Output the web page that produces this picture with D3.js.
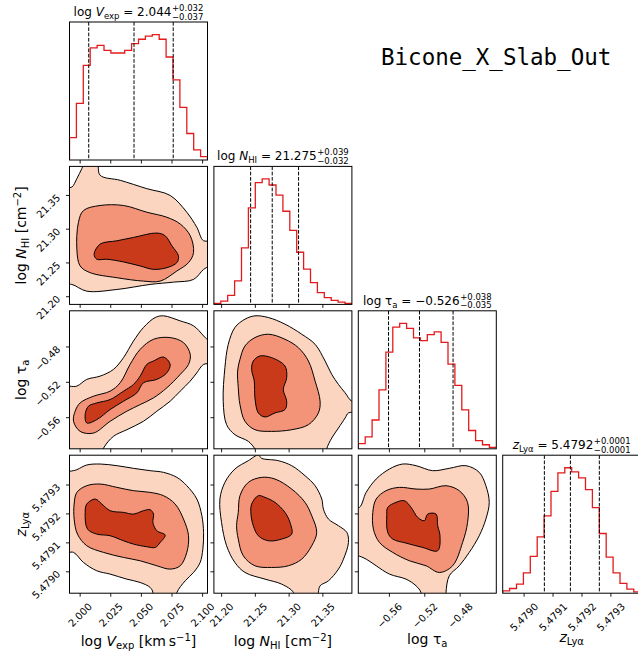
<!DOCTYPE html>
<html>
<head>
<meta charset="utf-8">
<script src="https://cdn.jsdelivr.net/npm/d3@7"></script>
<style>
  body { margin: 0; background: #fff; }
  text { font-family: "DejaVu Sans", sans-serif; fill: #000; }
</style>
</head>
<body>
<svg id="chart" width="638" height="652"></svg>
<script>
// ---- axis limits and ticks of the four parameters ----
const ranges = [[1.9913, 2.1040], [21.1886, 21.3930], [-0.5952, -0.4391], [5.478926, 5.479403]];
const tickValues = [
  [2.000, 2.025, 2.050, 2.075, 2.100],
  [21.20, 21.25, 21.30, 21.35],
  [-0.56, -0.52, -0.48],
  [5.4790, 5.4791, 5.4792, 5.4793]
];
const tickLabels = [
  ["2.000", "2.025", "2.050", "2.075", "2.100"],
  ["21.20", "21.25", "21.30", "21.35"],
  ["\u22120.56", "\u22120.52", "\u22120.48"],
  ["5.4790", "5.4791", "5.4792", "5.4793"]
];

// ---- 1D marginal histograms (20 bins across each range) ----
const histVexp = [67, 169, 282, 334, 342, 327, 319, 319, 327, 347, 360, 369, 374, 360, 307, 239, 157, 79, 30, 10];
const histNHI  = [3, 10, 27, 70, 168, 287, 362, 373, 355, 325, 277, 220, 155, 105, 65, 35, 20, 12, 7, 3];
const histTau  = [15, 35, 85, 174, 285, 359, 370, 355, 327, 319, 337, 345, 314, 250, 187, 115, 54, 24, 12, 4];
const histZ    = [7, 14, 27, 60, 109, 167, 229, 302, 357, 372, 360, 342, 307, 254, 177, 107, 60, 29, 12, 4];

// ---- 16th / 50th / 84th percentiles ----
const qVexp = [2.007, 2.044, 2.076];
const qNHI  = [21.243, 21.275, 21.314];
const qTau  = [-0.561, -0.526, -0.488];
const qZ    = [5.47907, 5.47916, 5.47926];
const titleDecimals = [3, 3, 3, 4];

// ---- 2D credible-region contours: [outer, middle, inner] ----
const nhiVexp = [
  [[1.9864,21.3600],[1.9932,21.3624],[1.9973,21.3749],[2.0014,21.3898],[2.0041,21.3998],[2.0136,21.3998],[2.0163,21.3799],[2.0327,21.3724],[2.0545,21.3600],[2.0735,21.3500],[2.0871,21.3251],[2.0953,21.3027],[2.1008,21.2828],[2.1089,21.2828],[2.1089,21.2505],[2.1008,21.2405],[2.0926,21.2256],[2.0763,21.2216],[2.0572,21.2182],[2.0300,21.2107],[2.0054,21.2082],[1.9932,21.2182],[1.9864,21.2182]],
  [[1.9986,21.3102],[2.0027,21.3276],[2.0163,21.3351],[2.0354,21.3351],[2.0545,21.3251],[2.0708,21.3177],[2.0817,21.3077],[2.0899,21.2903],[2.0926,21.2654],[2.0885,21.2505],[2.0790,21.2381],[2.0654,21.2231],[2.0517,21.2231],[2.0300,21.2281],[2.0082,21.2356],[2.0000,21.2455],[1.9973,21.2704]],
  [[2.0114,21.2629],[2.0163,21.2779],[2.0300,21.2828],[2.0436,21.2878],[2.0626,21.2943],[2.0694,21.2903],[2.0749,21.2754],[2.0803,21.2604],[2.0790,21.2505],[2.0708,21.2430],[2.0599,21.2405],[2.0490,21.2455],[2.0354,21.2515],[2.0218,21.2555],[2.0136,21.2555]]
];
const tauVexp = [
  [[1.9864,-0.5262],[1.9973,-0.5243],[2.0054,-0.5167],[2.0163,-0.5130],[2.0272,-0.5054],[2.0354,-0.4921],[2.0436,-0.4732],[2.0517,-0.4580],[2.0613,-0.4467],[2.0681,-0.4448],[2.0817,-0.4505],[2.0926,-0.4561],[2.1008,-0.4675],[2.1089,-0.4808],[2.1089,-0.4978],[2.1008,-0.4997],[2.0953,-0.5092],[2.0899,-0.5186],[2.0817,-0.5300],[2.0735,-0.5414],[2.0626,-0.5527],[2.0517,-0.5641],[2.0381,-0.5736],[2.0272,-0.5811],[2.0191,-0.5944],[2.0163,-0.6058],[1.9864,-0.6058]],
  [[1.9959,-0.5527],[2.0000,-0.5433],[2.0109,-0.5357],[2.0245,-0.5300],[2.0327,-0.5205],[2.0408,-0.4997],[2.0490,-0.4827],[2.0599,-0.4713],[2.0735,-0.4694],[2.0844,-0.4751],[2.0899,-0.4883],[2.0885,-0.4997],[2.0817,-0.5111],[2.0708,-0.5262],[2.0599,-0.5376],[2.0490,-0.5452],[2.0381,-0.5527],[2.0245,-0.5641],[2.0109,-0.5774],[2.0000,-0.5755],[1.9946,-0.5641]],
  [[2.0041,-0.5565],[2.0068,-0.5470],[2.0136,-0.5433],[2.0245,-0.5395],[2.0354,-0.5300],[2.0436,-0.5224],[2.0490,-0.5130],[2.0545,-0.4997],[2.0599,-0.4959],[2.0681,-0.4914],[2.0735,-0.4997],[2.0708,-0.5092],[2.0626,-0.5167],[2.0517,-0.5205],[2.0463,-0.5319],[2.0354,-0.5414],[2.0245,-0.5508],[2.0136,-0.5622],[2.0054,-0.5660]]
];
const tauNHI = [
  [[21.2519,-0.6020],[21.2494,-0.5955],[21.2396,-0.5868],[21.2197,-0.5792],[21.2074,-0.5679],[21.2024,-0.5414],[21.2049,-0.5035],[21.2099,-0.4770],[21.2197,-0.4580],[21.2346,-0.4486],[21.2494,-0.4448],[21.2692,-0.4467],[21.2939,-0.4542],[21.3187,-0.4656],[21.3385,-0.4770],[21.3533,-0.4959],[21.3632,-0.5111],[21.3731,-0.5224],[21.3830,-0.5319],[21.3929,-0.5414],[21.4028,-0.5414],[21.4028,-0.5527],[21.3879,-0.5546],[21.3830,-0.5603],[21.3731,-0.5717],[21.3632,-0.5830],[21.3558,-0.5952],[21.3558,-0.6020]],
  [[21.2237,-0.5073],[21.2272,-0.4940],[21.2346,-0.4789],[21.2494,-0.4694],[21.2692,-0.4656],[21.2939,-0.4713],[21.3137,-0.4808],[21.3286,-0.4959],[21.3385,-0.5186],[21.3459,-0.5414],[21.3434,-0.5546],[21.3286,-0.5679],[21.3038,-0.5736],[21.2741,-0.5755],[21.2494,-0.5736],[21.2346,-0.5641],[21.2272,-0.5452],[21.2247,-0.5262]],
  [[21.2445,-0.5054],[21.2470,-0.4959],[21.2568,-0.4902],[21.2741,-0.4921],[21.2939,-0.5016],[21.2964,-0.5148],[21.2914,-0.5281],[21.2964,-0.5414],[21.2939,-0.5508],[21.2791,-0.5546],[21.2643,-0.5592],[21.2544,-0.5546],[21.2494,-0.5376],[21.2484,-0.5186]]
];
const zVexp = [
  [[1.9864,5.4793345],[1.9973,5.4793529],[2.0054,5.4793691],[2.0163,5.4793725],[2.0300,5.4793668],[2.0436,5.4793576],[2.0572,5.4793495],[2.0681,5.4793437],[2.0790,5.4793264],[2.0871,5.4792976],[2.0953,5.4792514],[2.0994,5.4791938],[2.1008,5.4791361],[2.1002,5.4790784],[2.0980,5.4790323],[2.0926,5.4789977],[2.0858,5.4789689],[2.0790,5.4789285],[2.0776,5.4788940],[2.0586,5.4788940],[2.0594,5.4789285],[2.0572,5.4789458],[2.0490,5.4789631],[2.0381,5.4789746],[2.0245,5.4789920],[2.0136,5.4790035],[2.0027,5.4790323],[1.9946,5.4790670],[1.9864,5.4790692]],
  [[1.9951,5.4792341],[1.9973,5.4792745],[2.0054,5.4792976],[2.0163,5.4793033],[2.0300,5.4792918],[2.0436,5.4792803],[2.0572,5.4792745],[2.0681,5.4792630],[2.0776,5.4792341],[2.0844,5.4791822],[2.0885,5.4791246],[2.0871,5.4790669],[2.0817,5.4790208],[2.0735,5.4790093],[2.0626,5.4790208],[2.0490,5.4790381],[2.0354,5.4790496],[2.0191,5.4790669],[2.0054,5.4790900],[1.9978,5.4791303],[1.9951,5.4791822]],
  [[2.0041,5.4792053],[2.0054,5.4792341],[2.0123,5.4792514],[2.0177,5.4792341],[2.0245,5.4792111],[2.0354,5.4792053],[2.0436,5.4791995],[2.0517,5.4792111],[2.0572,5.4792145],[2.0599,5.4791995],[2.0594,5.4791707],[2.0626,5.4791419],[2.0694,5.4791269],[2.0654,5.4791015],[2.0613,5.4790842],[2.0545,5.4790865],[2.0436,5.4790957],[2.0354,5.4791072],[2.0245,5.4791246],[2.0136,5.4791303],[2.0060,5.4791476]]
];
const zNHI = [
  [[21.2544,5.4794037],[21.2396,5.4793841],[21.2197,5.4793552],[21.2049,5.4793091],[21.1975,5.4792514],[21.1999,5.4791707],[21.2074,5.4790900],[21.2197,5.4790323],[21.2346,5.4789977],[21.2643,5.4789746],[21.2890,5.4789573],[21.3063,5.4789285],[21.3063,5.4788940],[21.3424,5.4788940],[21.3434,5.4789285],[21.3459,5.4789516],[21.3583,5.4789689],[21.3731,5.4790093],[21.3805,5.4790438],[21.3879,5.4791015],[21.3855,5.4791361],[21.3731,5.4791592],[21.3583,5.4791822],[21.3508,5.4792168],[21.3484,5.4792514],[21.3385,5.4792975],[21.3236,5.4793321],[21.3038,5.4793668],[21.2840,5.4793841],[21.2593,5.4793922]],
  [[21.2222,5.4791592],[21.2247,5.4792053],[21.2272,5.4792630],[21.2396,5.4793091],[21.2593,5.4793264],[21.2791,5.4793206],[21.3038,5.4792860],[21.3236,5.4792399],[21.3335,5.4791938],[21.3409,5.4791361],[21.3335,5.4790900],[21.3187,5.4790438],[21.2989,5.4790208],[21.2741,5.4790150],[21.2494,5.4790208],[21.2321,5.4790554],[21.2247,5.4791130]],
  [[21.2435,5.4791995],[21.2445,5.4792341],[21.2544,5.4792630],[21.2643,5.4792572],[21.2791,5.4792399],[21.2939,5.4792053],[21.3013,5.4791707],[21.3038,5.4791303],[21.2890,5.4791130],[21.2692,5.4791072],[21.2544,5.4791246],[21.2470,5.4791592]]
];
const zTau = [
  [[-0.6014,5.4792226],[-0.5939,5.4792226],[-0.5863,5.4792745],[-0.5750,5.4793206],[-0.5600,5.4793552],[-0.5450,5.4793725],[-0.5299,5.4793668],[-0.5111,5.4793495],[-0.4923,5.4793576],[-0.4735,5.4793668],[-0.4584,5.4793437],[-0.4509,5.4792975],[-0.4471,5.4792399],[-0.4509,5.4791822],[-0.4584,5.4791246],[-0.4697,5.4790669],[-0.4810,5.4790208],[-0.4923,5.4789862],[-0.4960,5.4789285],[-0.4960,5.4788940],[-0.5243,5.4788940],[-0.5243,5.4789285],[-0.5299,5.4789516],[-0.5412,5.4789746],[-0.5600,5.4789920],[-0.5750,5.4790208],[-0.5863,5.4790438],[-0.5957,5.4790554],[-0.6014,5.4790554]],
  [[-0.5788,5.4792053],[-0.5750,5.4792514],[-0.5638,5.4792803],[-0.5487,5.4792918],[-0.5299,5.4792860],[-0.5149,5.4792860],[-0.4960,5.4792975],[-0.4810,5.4792803],[-0.4716,5.4792399],[-0.4716,5.4791707],[-0.4772,5.4791015],[-0.4885,5.4790208],[-0.5036,5.4789977],[-0.5186,5.4790208],[-0.5374,5.4790381],[-0.5562,5.4790669],[-0.5713,5.4791015],[-0.5781,5.4791476]],
  [[-0.5630,5.4791938],[-0.5619,5.4792226],[-0.5525,5.4792399],[-0.5431,5.4792457],[-0.5355,5.4792226],[-0.5280,5.4791880],[-0.5205,5.4791765],[-0.5167,5.4791995],[-0.5073,5.4791995],[-0.5054,5.4791592],[-0.5028,5.4791246],[-0.5054,5.4790727],[-0.5224,5.4790842],[-0.5412,5.4790992],[-0.5562,5.4791130],[-0.5619,5.4791361]]
];

const hists = [histVexp, histNHI, histTau, histZ];
const quantiles = [qVexp, qNHI, qTau, qZ];
const pairs = [
  { row: 1, col: 0, levels: nhiVexp },
  { row: 2, col: 0, levels: tauVexp },
  { row: 2, col: 1, levels: tauNHI },
  { row: 3, col: 0, levels: zVexp },
  { row: 3, col: 1, levels: zNHI },
  { row: 3, col: 2, levels: zTau }
];
const levelColors = ["#fcd5c1", "#f39478", "#c93a1b"];

// Label pieces: plain, italic, subscript, superscript runs
const axisLabels = [
  [{ t: "log " }, { t: "V", it: true }, { t: "exp", sub: true }, { t: " [km\u2009s" }, { t: "\u22121", sup: true }, { t: "]" }],
  [{ t: "log " }, { t: "N", it: true }, { t: "HI", sub: true }, { t: " [cm" }, { t: "\u22122", sup: true }, { t: "]" }],
  [{ t: "log \u03c4" }, { t: "a", sub: true }],
  [{ t: "z", it: true }, { t: "Ly\u03b1", sub: true }]
];
const titleSymbols = [
  [{ t: "log " }, { t: "V", it: true }, { t: "exp", sub: true }],
  [{ t: "log " }, { t: "N", it: true }, { t: "HI", sub: true }],
  [{ t: "log \u03c4" }, { t: "a", sub: true }],
  [{ t: "z", it: true }, { t: "Ly\u03b1", sub: true }]
];
const figureTitle = "Bicone_X_Slab_Out";

// ---- layout ----
const svg = d3.select("#chart");
const L0 = 69.5, T0 = 22, S = 138, STEP = 144.4, N = 4;
const TICK = 3.5, TICKFONT = 10;

const xs = ranges.map((r, i) => d3.scaleLinear().domain(r).range([L0 + i * STEP, L0 + i * STEP + S]));
const ys = ranges.map((r, i) => d3.scaleLinear().domain(r).range([T0 + i * STEP + S, T0 + i * STEP]));

const defs = svg.append("defs");
function clipFor(r, c) {
  const id = `clip-${r}-${c}`;
  defs.append("clipPath").attr("id", id).append("rect")
    .attr("x", L0 + c * STEP).attr("y", T0 + r * STEP).attr("width", S).attr("height", S);
  return `url(#${id})`;
}

// Appends tspans for a run list; returns the baseline shift left at the end
function addRuns(textSel, runs, size, scriptSize) {
  let shift = 0;
  runs.forEach(run => {
    const target = run.sub ? 3 : run.sup ? -5 : 0;
    const ts = textSel.append("tspan").text(run.t);
    if (target !== shift) { ts.attr("dy", target - shift); shift = target; }
    ts.style("font-size", (run.sub || run.sup ? scriptSize : size) + "px");
    if (run.it) ts.style("font-style", "italic");
  });
  return shift;
}

function fmt(v, d) { return v.toFixed(d).replace("-", "\u2212"); }

// ---- off-diagonal panels: filled contours ----
const contourLine = d3.line().curve(d3.curveCatmullRomClosed.alpha(0.5));
pairs.forEach(p => {
  const x = xs[p.col], y = ys[p.row];
  const g = svg.append("g").attr("clip-path", clipFor(p.row, p.col));
  p.levels.forEach((poly, k) => {
    g.append("path")
      .attr("d", contourLine.x(d => x(d[0])).y(d => y(d[1]))(poly))
      .attr("fill", levelColors[k])
      .attr("stroke", "#000")
      .attr("stroke-width", 1);
  });
});

// ---- diagonal panels: histograms and percentile lines ----
for (let i = 0; i < N; i++) {
  const x = xs[i];
  const counts = hists[i];
  const [lo, hi] = ranges[i];
  const top = T0 + i * STEP, bottom = top + S;
  const yh = d3.scaleLinear().domain([0, 1.1 * d3.max(counts)]).range([bottom, top]);
  const edges = d3.range(counts.length + 1).map(k => lo + k * (hi - lo) / counts.length);
  const pts = [[edges[0], 0]];
  counts.forEach((c, k) => { pts.push([edges[k], c]); pts.push([edges[k + 1], c]); });
  pts.push([edges[counts.length], 0]);
  const g = svg.append("g").attr("clip-path", clipFor(i, i));
  g.append("path")
    .attr("d", d3.line().x(d => x(d[0])).y(d => yh(d[1]))(pts))
    .attr("fill", "none")
    .attr("stroke", "#e31a1c")
    .attr("stroke-width", 1.3);
  g.selectAll("line.q").data(quantiles[i]).join("line")
    .attr("x1", d => x(d)).attr("x2", d => x(d))
    .attr("y1", top).attr("y2", bottom)
    .attr("stroke", "#000").attr("stroke-width", 1)
    .attr("stroke-dasharray", "3.7,1.6");

  // title: symbol = median with +upper / -lower errors
  const q = quantiles[i], dp = titleDecimals[i];
  const tg = svg.append("g");
  const main = tg.append("text").attr("x", 0).attr("y", 0);
  const shift = addRuns(main, titleSymbols[i], 12, 8.5);
  main.append("tspan").attr("dy", -shift).style("font-size", "12px").text(" = " + fmt(q[1], dp));
  const w = main.node().getComputedTextLength();
  const sup = tg.append("text").attr("x", w + 0.5).attr("y", -5).style("font-size", "8.5px")
    .text("+" + (q[2] - q[1]).toFixed(dp));
  const sub = tg.append("text").attr("x", w + 0.5).attr("y", 3.5).style("font-size", "8.5px")
    .text("\u2212" + (q[1] - q[0]).toFixed(dp));
  const total = w + 0.5 + Math.max(sup.node().getComputedTextLength(), sub.node().getComputedTextLength());
  tg.attr("transform", `translate(${L0 + i * STEP + S / 2 - total / 2},${top - 6})`);
}

// ---- frames, ticks, tick labels ----
for (let r = 0; r < N; r++) {
  for (let c = 0; c <= r; c++) {
    const x0 = L0 + c * STEP, y0 = T0 + r * STEP;
    const g = svg.append("g");
    g.append("rect").attr("x", x0).attr("y", y0).attr("width", S).attr("height", S)
      .attr("fill", "none").attr("stroke", "#000").attr("stroke-width", 1);
    const x = xs[c];
    tickValues[c].forEach((v, k) => {
      const tx = x(v);
      g.append("line").attr("x1", tx).attr("x2", tx).attr("y1", y0 + S).attr("y2", y0 + S + TICK)
        .attr("stroke", "#000").attr("stroke-width", 0.9);
      if (r === N - 1) {
        const t = g.append("text").style("font-size", TICKFONT + "px").attr("text-anchor", "end")
          .text(tickLabels[c][k]);
        const Lt = t.node().getComputedTextLength(), h = 0.73 * TICKFONT;
        const ax = tx + 0.3536 * (Lt + h), ay = y0 + S + 9 + 0.707 * h;
        t.attr("transform", `translate(${ax},${ay}) rotate(-45)`);
      }
    });
    if (r !== c) {
      const y = ys[r];
      tickValues[r].forEach((v, k) => {
        const ty = y(v);
        g.append("line").attr("x1", x0 - TICK).attr("x2", x0).attr("y1", ty).attr("y2", ty)
          .attr("stroke", "#000").attr("stroke-width", 0.9);
        if (c === 0) {
          g.append("text").style("font-size", TICKFONT + "px").attr("text-anchor", "end")
            .attr("transform", `translate(${x0 - 8.5},${ty + 3}) rotate(-45)`)
            .text(tickLabels[r][k]);
        }
      });
    }
  }
}

// ---- axis labels ----
const bottomBase = [646, 646, 644, 642];
for (let i = 0; i < N; i++) {
  const t = svg.append("text").attr("text-anchor", "middle")
    .attr("x", L0 + i * STEP + S / 2).attr("y", bottomBase[i]);
  addRuns(t, axisLabels[i], 14, 10);
}
for (let i = 1; i < N; i++) {
  const t = svg.append("text").attr("text-anchor", "middle")
    .attr("transform", `translate(26,${T0 + i * STEP + S / 2}) rotate(-90)`);
  addRuns(t, axisLabels[i], 14, 10);
}

// ---- figure title ----
svg.append("text").attr("x", 381).attr("y", 65)
  .style("font-family", "'DejaVu Sans Mono', monospace").style("font-size", "22.5px")
  .text(figureTitle);
</script>
</body>
</html>
